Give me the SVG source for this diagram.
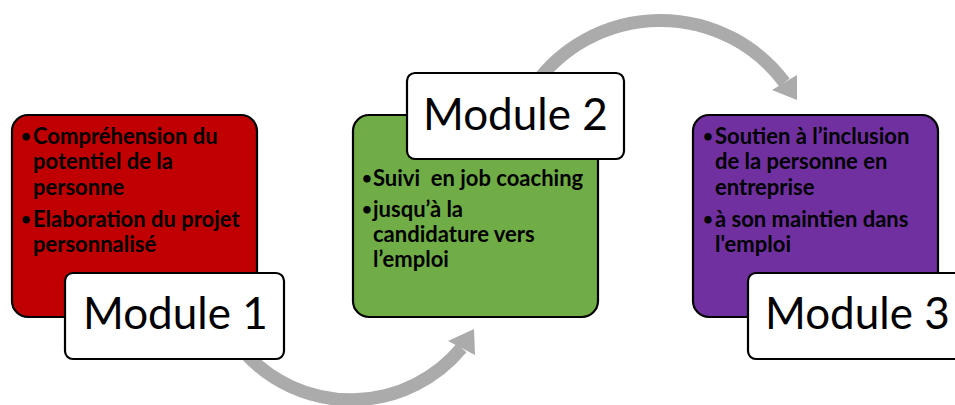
<svg xmlns="http://www.w3.org/2000/svg" width="955" height="405" viewBox="0 0 955 405">
<defs>
<style>
.arc{fill:none;stroke:#ABABAB;stroke-width:13}
.head{fill:#ABABAB}
.box{stroke:#000;stroke-width:2.2}
.lbl{fill:#fff;stroke:#000;stroke-width:2.2}
.lt{font-family:Lato,"Liberation Sans",sans-serif;font-size:44px;fill:#000}
.bt{font-family:Lato,"Liberation Sans",sans-serif;font-size:22px;font-weight:bold;fill:#000;white-space:pre}
.bu{font-family:Lato,"Liberation Sans",sans-serif;font-size:17px;font-weight:bold;fill:#000;text-anchor:middle}
</style>
</defs>
<rect width="955" height="405" fill="#fff"/>
<g id="connectors">
<path class="arc" d="M 534.5 85 A 155 155 0 0 1 784.5 82.5"/>
<polygon class="head" points="772,90 797,75 797,100"/>
<path class="arc" d="M 244 352 A 143.7 143.7 0 0 0 461.5 348"/>
<polygon class="head" points="448,341 475,355 474,329"/>
</g>
<g id="module1">
<rect class="box" x="12" y="115" width="245" height="202" rx="16" fill="#C00000"/>
<text class="bu" x="26" y="142">•</text>
<text class="bt" x="33" y="144">Compréhension du</text>
<text class="bt" x="33" y="169">potentiel de la</text>
<text class="bt" x="33" y="195">personne</text>
<text class="bu" x="26" y="225">•</text>
<text class="bt" x="33" y="227">Elaboration du projet</text>
<text class="bt" x="33" y="252">personnalisé</text>
<rect class="lbl" x="65" y="273" width="219" height="86" rx="8"/>
<text class="lt" x="83" y="329">Module 1</text>
</g>
<g id="module2">
<rect class="box" x="353" y="115" width="245" height="202" rx="16" fill="#70AD47"/>
<text class="bu" x="367" y="184">•</text>
<text class="bt" x="373" y="186">Suivi  en job coaching</text>
<text class="bu" x="367" y="215">•</text>
<text class="bt" x="373" y="217">jusqu’à la</text>
<text class="bt" x="373" y="242">candidature vers</text>
<text class="bt" x="373" y="267">l’emploi</text>
<rect class="lbl" x="407" y="73" width="217" height="86" rx="8"/>
<text class="lt" x="423" y="130">Module 2</text>
</g>
<g id="module3">
<rect class="box" x="693" y="115" width="245" height="202" rx="16" fill="#7030A0"/>
<text class="bu" x="708" y="142">•</text>
<text class="bt" x="715" y="144">Soutien à l’inclusion</text>
<text class="bt" x="715" y="169">de la personne en</text>
<text class="bt" x="715" y="195">entreprise</text>
<text class="bu" x="708" y="225">•</text>
<text class="bt" x="715" y="227">à son maintien dans</text>
<text class="bt" x="715" y="252">l'emploi</text>
<rect class="lbl" x="748" y="273" width="219" height="86" rx="8"/>
<text class="lt" x="765" y="329">Module 3</text>
</g>
</svg>
